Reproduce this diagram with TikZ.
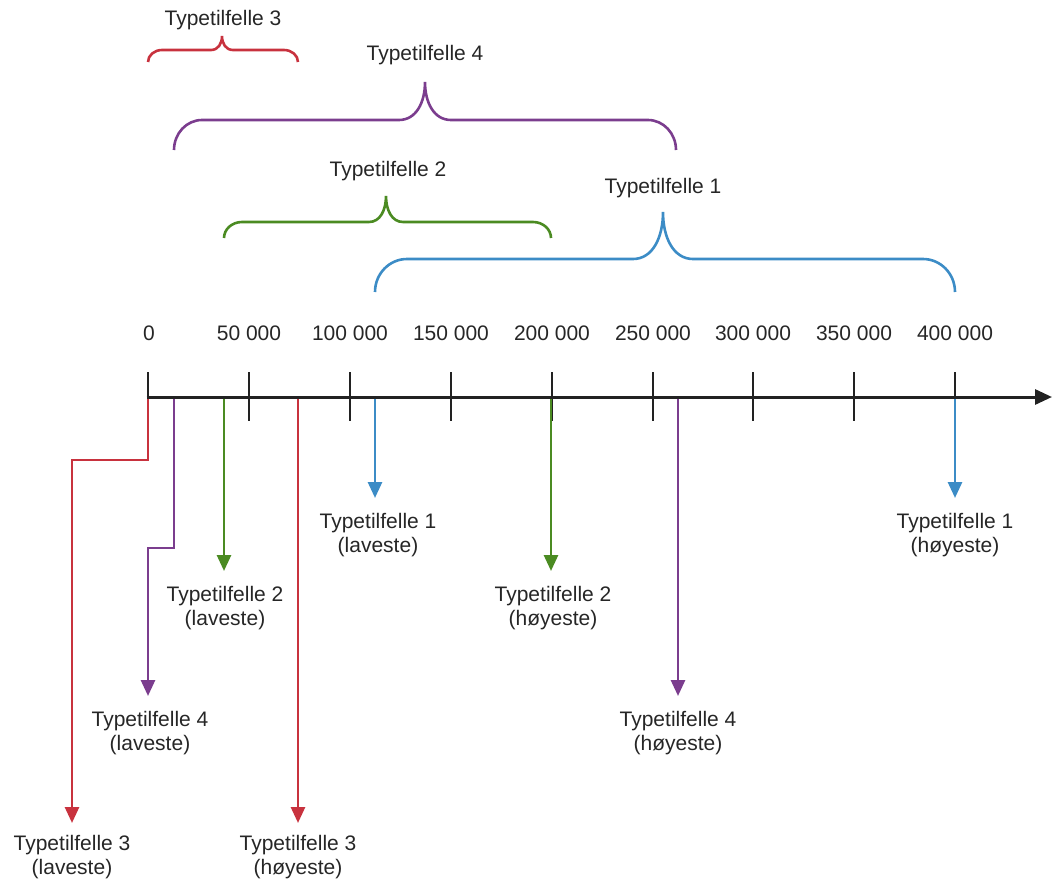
\documentclass[tikz,border=0pt]{standalone}
\usepackage{fontspec}
\setmainfont{Liberation Sans}
\usetikzlibrary{arrows.meta}
\definecolor{cred}{HTML}{C8323E}
\definecolor{cpurple}{HTML}{7B3D8E}
\definecolor{cgreen}{HTML}{4B8B22}
\definecolor{cblue}{HTML}{3C8CC6}
\definecolor{caxis}{HTML}{222222}
\newcommand\mybrace[9]{%
  \draw[#1, line width=2.6pt]
    (#2,#4) .. controls (#2,{#4-0.552*(#4-#5)}) and ({#2+0.448*#8},#5) .. ({#2+#8},#5)
    -- ({#6-#9},#5) .. controls ({#6-0.35*#9},#5) and (#6,{#5-0.45*(#5-#7)}) .. (#6,#7)
    .. controls (#6,{#5-0.45*(#5-#7)}) and ({#6+0.35*#9},#5) .. ({#6+#9},#5)
    -- ({#3-#8},#5) .. controls ({#3-0.448*#8},#5) and (#3,{#4-0.552*(#4-#5)}) .. (#3,#4);}
\begin{document}
\begin{tikzpicture}[x=1pt,y=-1pt,
  txt/.style={font=\fontsize{21}{24}\selectfont, text=black!85, inner sep=0pt, align=center},
  tick/.style={caxis, line width=2.8pt},
  conn/.style={line width=2.8pt, -{Triangle[width=14pt,length=16pt]}},
]
\useasboundingbox (0,0) rectangle (1052,886);

% braces
\mybrace{cred}{148}{298}{62}{50}{222}{36}{14}{11}
\mybrace{cpurple}{174}{676}{150}{120}{425}{82}{28}{26}
\mybrace{cgreen}{224}{551}{238}{222}{386}{196}{18}{17}
\mybrace{cblue}{375}{955}{292}{259}{663}{212}{32}{30}

\node[txt] (b3) at (223,20) {Typetilfelle 3};
\node[txt] (b4) at (425,55) {Typetilfelle 4};
\node[txt] (b2) at (388,171) {Typetilfelle 2};
\node[txt] (b1) at (663,188) {Typetilfelle 1};

% axis ticks and labels
\foreach \v/\x [count=\i] in {0/149,50 000/249,100 000/350,150 000/451,200 000/552,250 000/653,300 000/753,350 000/854,400 000/955}{
  \node[txt] (t\i) at (\x,333) {\v};
}
\draw[tick] (148,372) -- (148,397);
\foreach \x in {249,350,451,552,653,753,854,955}{
  \draw[tick] (\x,372) -- (\x,421);
}

% colored connectors
\coordinate (a0) at (148,397);
\coordinate (aP) at (174,397);
\coordinate (aG) at (224,397);
\coordinate (aR) at (298,397);
\coordinate (aB) at (375,397);
\coordinate (aG2) at (551,397);
\coordinate (aP2) at (678,397);
\coordinate (aB2) at (955,397);

\node[txt] (lB) at (378,535) {Typetilfelle 1\\(laveste)};
\node[txt] (lB2) at (955,535) {Typetilfelle 1\\(høyeste)};
\node[txt] (lG) at (225,608) {Typetilfelle 2\\(laveste)};
\node[txt] (lG2) at (553,608) {Typetilfelle 2\\(høyeste)};
\node[txt] (lP) at (150,733) {Typetilfelle 4\\(laveste)};
\node[txt] (lP2) at (678,733) {Typetilfelle 4\\(høyeste)};
\node[txt] (lR) at (72,857) {Typetilfelle 3\\(laveste)};
\node[txt] (lR2) at (298,857) {Typetilfelle 3\\(høyeste)};

\coordinate (eB) at (375,498);
\coordinate (eB2) at (955,498);
\coordinate (eG) at (224,571);
\coordinate (eG2) at (551,571);
\coordinate (eP) at (148,696);
\coordinate (eP2) at (678,696);
\coordinate (eR) at (72,823);
\coordinate (eR2) at (298,823);

\draw[conn, cblue] (aB) -- (eB);
\draw[conn, cblue] (aB2) -- (eB2);
\draw[conn, cgreen] (aG) -- (eG);
\draw[conn, cgreen] (aG2) -- (eG2);
\draw[conn, cpurple] (aP) |- (161,548) -| (eP);
\draw[conn, cpurple] (aP2) -- (eP2);
\draw[conn, cred] (a0) |- (110,460) -| (eR);
\draw[conn, cred] (aR) -- (eR2);

% axis
\coordinate (axend) at (1052,397);
\draw[caxis, line width=3pt, -{Triangle[width=15pt,length=17pt]}] (146.6,397) -- (axend);
\end{tikzpicture}
\end{document}
